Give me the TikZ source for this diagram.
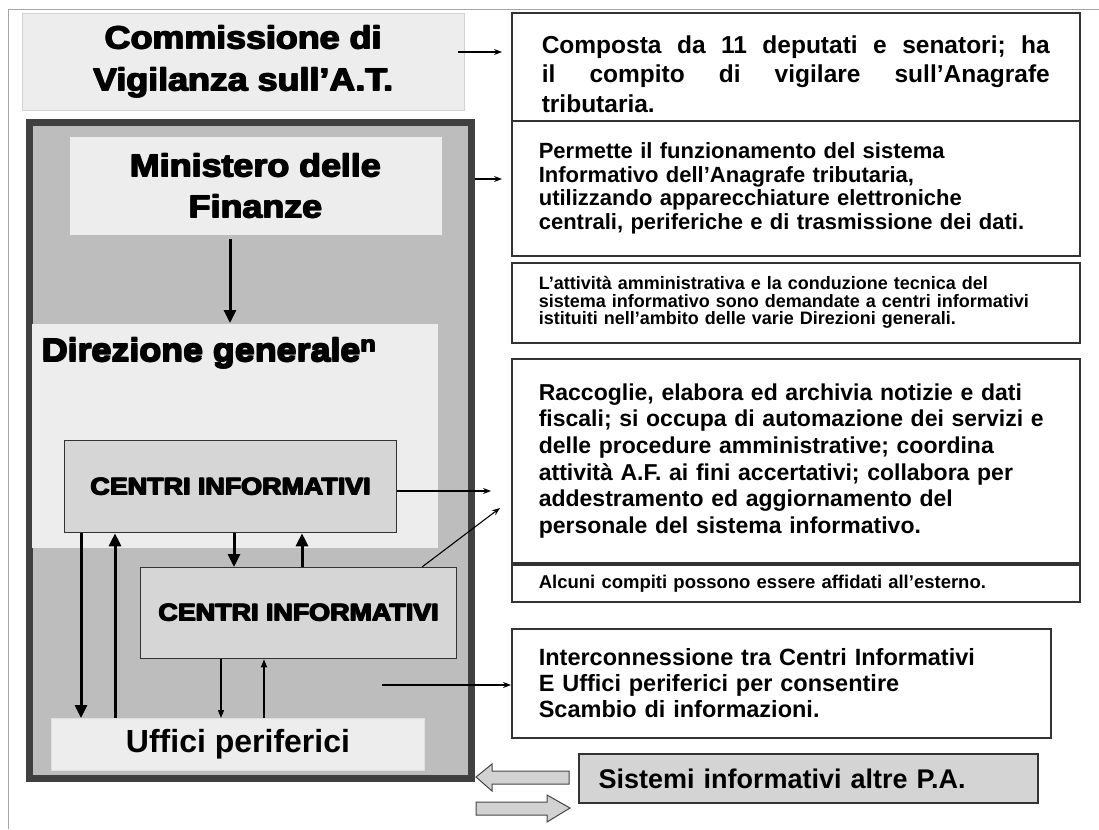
\documentclass[tikz,border=0pt]{standalone}
\usepackage{fontspec}
\setmainfont{Liberation Sans}
\newfontfamily\heavyfont[UprightFont=* Bold,FakeStretch=1.12]{Liberation Sans}
\usetikzlibrary{arrows.meta,positioning}
\definecolor{panelgray}{gray}{0.93}
\definecolor{framegray}{gray}{0.74}
\definecolor{framedark}{gray}{0.25}
\definecolor{centrogray}{gray}{0.84}
\definecolor{sistgray}{gray}{0.83}
\definecolor{bordergray}{gray}{0.2}
\tikzset{
 panel/.style={fill=panelgray, draw=gray!35, line width=1pt, anchor=north west, inner sep=0pt},
 titletext/.style={font=\heavyfont\fontsize{32}{42}\selectfont, align=center},
 centro/.style={fill=centrogray, draw=bordergray, line width=1.3pt, anchor=north west, inner sep=0pt,
   font=\heavyfont\fontsize{24}{24}\selectfont},
 infobox/.style={draw=bordergray, line width=1.6pt, fill=white, anchor=north west, inner xsep=27pt,
   inner ysep=0pt, text width=514pt, minimum width=568pt, align=left},
 bigarr/.style={line width=3pt, -{Triangle[length=13pt,width=12pt]}},
 smallarr/.style={line width=1.3pt, -{Triangle[length=8pt,width=6pt]}},
 thinarr/.style={line width=1.1pt, -{Stealth[length=8pt,width=6pt]}},
 blockarr/.style={fill=gray!35, draw=gray!55!black, line width=1pt},
}
\newcommand\fullline[1]{\leavevmode\hbox to 508pt{#1}}
% heavier lettering for the titles
\newcommand\fat[1]{\leavevmode\rlap{#1}\rlap{\kern1.3pt#1}\rlap{\raisebox{1.1pt}{#1}}%
  \rlap{\kern1.3pt\raisebox{1.1pt}{#1}}\kern0.65pt\phantom{#1}\kern0.65pt}
\begin{document}
\begin{tikzpicture}[x=1pt,y=-1pt]
 \useasboundingbox (0,0) rectangle (1099,829);
 \draw[gray!70, line width=1pt] (8,829) -- (8,10) -- (1099,10);
 % left side: organi
 \node[panel, minimum width=442pt, minimum height=97pt, titletext] (comm) at (21.7,12.7)
   {\fat{Commissione di}\\\fat{Vigilanza sull’A.T.}};
 \node[fill=framegray, draw=framedark, line width=7pt, anchor=north west,
   minimum width=442pt, minimum height=655pt] (frame) at (25.5,119.5) {};
 \node[panel, draw=none, minimum width=372pt, minimum height=97pt, titletext,
   font=\heavyfont\fontsize{32}{41}\selectfont] (mini) at (69,137) {\fat{Ministero delle}\\\fat{Finanze}};
 \node[panel, draw=none, minimum width=406pt, minimum height=224pt] (dir) at (31,323) {};
 \node[anchor=base west, inner sep=0pt, font=\heavyfont\fontsize{32}{32}\selectfont] (dirlab)
   at (41,362) {\fat{Direzione generale\textsuperscript{n}}};
 \node[centro, minimum width=332pt, minimum height=92pt] (c1) at (64,440) {\fat{CENTRI INFORMATIVI}};
 \node[centro, minimum width=316pt, minimum height=91pt] (c2) at (140,567) {\fat{CENTRI INFORMATIVI}};
 \node[panel, draw=gray!25, minimum width=373pt, minimum height=52pt,
   font=\bfseries\fontsize{32}{32}\selectfont] (uff) at (51,718) {Uffici periferici};
 % right side: compiti
 \node[infobox, text width=508pt, inner xsep=30pt, minimum height=108pt,
   font=\bfseries\fontsize{24.5}{29.5}\selectfont] (box1) at (511,12)
   {\rule{0pt}{32pt}\fullline{Composta\hfill da\hfill 11\hfill deputati\hfill e\hfill senatori;\hfill ha}\\
    \fullline{il\hfill compito\hfill di\hfill vigilare\hfill sull’Anagrafe}\\
    tributaria.};
 \node[infobox, minimum height=135pt, font=\bfseries\fontsize{22}{23.5}\selectfont] (box2) at (511,120)
   {Permette il funzionamento del sistema\\
    Informativo dell’Anagrafe tributaria,\\
    utilizzando apparecchiature elettroniche\\
    centrali, periferiche e di trasmissione dei dati.};
 \node[infobox, minimum height=80pt, font=\bfseries\fontsize{18}{17.5}\selectfont] (box3) at (511,262)
   {L’attività amministrativa e la conduzione tecnica del\\
    sistema informativo sono demandate a centri informativi\\
    istituiti nell’ambito delle varie Direzioni generali.};
 \node[infobox, minimum height=204pt, font=\bfseries\fontsize{23}{26.5}\selectfont] (box4) at (511,358)
   {Raccoglie, elabora ed archivia notizie e dati\\
    fiscali; si occupa di automazione dei servizi e\\
    delle procedure amministrative; coordina\\
    attività A.F. ai fini accertativi; collabora per\\
    addestramento ed aggiornamento del\\
    personale del sistema informativo.};
 \node[infobox, minimum height=37pt, font=\bfseries\fontsize{18.5}{18.5}\selectfont] (box4b) at (511,564)
   {Alcuni compiti possono essere affidati all’esterno.};
 \node[infobox, text width=485pt, minimum width=539pt, minimum height=109pt,
   font=\bfseries\fontsize{23.5}{26}\selectfont] (box5) at (511,628)
   {Interconnessione tra Centri Informativi\\
    E Uffici periferici per consentire\\
    Scambio di informazioni.};
 \node[fill=sistgray, draw=bordergray, line width=2pt, anchor=north west, inner xsep=20pt,
   text width=419.5pt, minimum width=459.5pt, minimum height=49pt, align=left,
   font=\bfseries\fontsize{27}{27}\selectfont] (sist) at (577.5,753) {Sistemi informativi altre P.A.};
 % frecce interne
 \draw[bigarr, shorten <=4pt] (230,0 |- mini.south) -- (230,0 |- dir.north);
 \draw[bigarr] (81,0 |- c1.south) -- (81,0 |- uff.north);
 \draw[bigarr] (115,0 |- uff.north) -- (115,0 |- c1.south);
 \draw[bigarr] (234,0 |- c1.south) -- (234,0 |- c2.north);
 \draw[bigarr] (302,0 |- c2.north) -- (302,0 |- c1.south);
 \draw[smallarr] (221,0 |- c2.south) -- (221,0 |- uff.north);
 \draw[smallarr] (264,0 |- uff.north) -- (264,0 |- c2.south);
 % frecce verso i compiti
 \coordinate (p4) at (491,491);
 \coordinate (q4) at (500,508);
 \coordinate (p5) at (382,685);
 \draw[thinarr, shorten >=9pt] (458,52) -- (box1.west |- 0,52);
 \draw[thinarr, shorten >=9pt] (475,179) -- (box2.west |- 0,179);
 \draw[thinarr] (c1.east |- p4) -- (p4);
 \draw[thinarr] (422,0 |- c2.north) -- (q4);
 \draw[thinarr] (p5) -- (box5.west |- p5);
 % scambio con altre P.A.
 \draw[blockarr] (476,777) -- (492,764) -- (492,771) -- (569,771) -- (569,784) -- (492,784) -- (492,791) -- cycle;
 \draw[blockarr] (476,802) -- (547,802) -- (547,795) -- (570,808) -- (547,822) -- (547,815) -- (476,815) -- cycle;
\end{tikzpicture}
\end{document}
